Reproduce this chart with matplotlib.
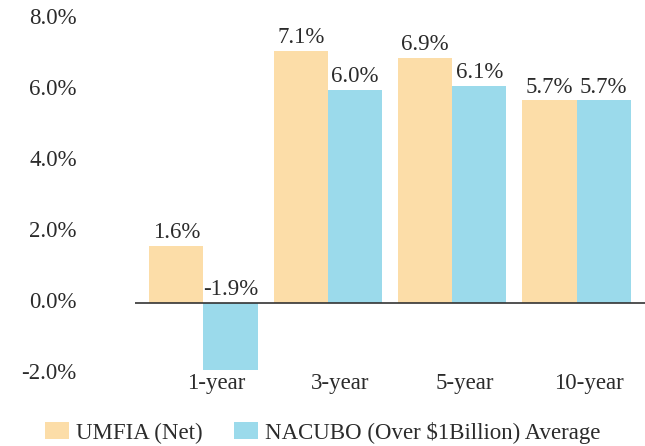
import numpy as np
import matplotlib.pyplot as plt
import matplotlib.transforms as mtransforms

# data
periods = ["1-year", "3-year", "5-year", "10-year"]
umfia = [1.6, 7.1, 6.9, 5.7]
nacubo = [-1.9, 6.0, 6.1, 5.7]
series_names = ["UMFIA (Net)", "NACUBO (Over $1Billion) Average"]
yticks = [-2, 0, 2, 4, 6, 8]

col_umfia = "#FCDDA8"
col_nacubo = "#9BDAEB"
txt = "#2b2b2b"
fs = 16.5

plt.rcParams["font.family"] = ["Liberation Serif", "DejaVu Serif"]

fig = plt.figure(figsize=(6.45, 4.46), dpi=100)
ax = fig.add_axes([135 / 645, (446 - 374) / 446, 510 / 645, (374 - 8) / 446])

x = np.arange(len(periods))
w = 0.435
b1 = ax.bar(x - w / 2, umfia, w, color=col_umfia, label=series_names[0])
b2 = ax.bar(x + w / 2, nacubo, w, color=col_nacubo, label=series_names[1])

for bars, vals in [(b1, umfia), (b2, nacubo)]:
    for bar, v in zip(bars, vals):
        ax.annotate(f"{v:.1f}%", (bar.get_x() + bar.get_width() / 2, max(v, 0)),
                    xytext=(0, 2), textcoords="offset points",
                    ha="center", va="bottom", fontsize=fs, color=txt)

ax.axhline(0, color="#333333", lw=1.2)
ax.set_xlim(-0.55, 3.55)
ax.set_ylim(-2.0, 8.3)

ax.set_yticks(yticks)
ax.set_yticklabels([f"{t:.1f}%" for t in yticks])
ax.set_xticks(x)
ax.set_xticklabels(periods)
ax.tick_params(axis="y", length=0, pad=42, labelsize=fs, labelcolor=txt)
ax.tick_params(axis="x", length=0, pad=-1, labelsize=fs, labelcolor=txt)

# small nudges so the labels sit like in the original
yshift = mtransforms.ScaledTranslation(0, 2 / 72, fig.dpi_scale_trans)
for lab in ax.get_yticklabels():
    lab.set_transform(lab.get_transform() + yshift)
xshift = mtransforms.ScaledTranslation(9 / 72, 0, fig.dpi_scale_trans)
for lab in ax.get_xticklabels():
    lab.set_transform(lab.get_transform() + xshift)

for s in ax.spines.values():
    s.set_visible(False)

fig.legend(loc="center", bbox_to_anchor=(0.50, 0.03), ncol=2, frameon=False,
           fontsize=fs, handlelength=1.05, handleheight=0.74,
           handletextpad=0.3, columnspacing=1.35, labelcolor=txt)

fig.savefig("out.png", dpi=100)
